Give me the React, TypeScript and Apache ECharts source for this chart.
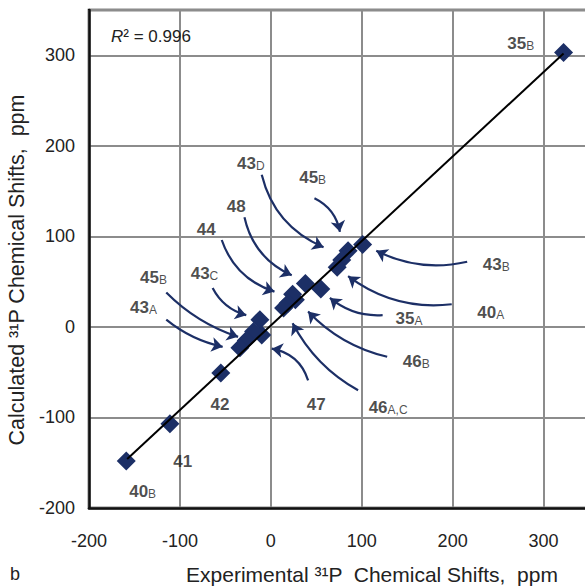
import React, { useEffect, useRef } from "react";
import * as echarts from "echarts";

// Axis ticks
const xTicks = [-200, -100, 0, 100, 200, 300];
const yTicks = [-200, -100, 0, 100, 200, 300];

// Data points: experimental vs calculated 31P shifts (ppm)
const expShift = [322, 101, 85, 78, 73, 55, 38, 27, 24, 19, 14, -12, -10, -19, -27, -34, -55, -111, -159];
const calcShift = [303, 91, 84, 74, 66, 42, 48, 30, 36, 26, 21, 8, -9, -5, -15, -23, -51, -107, -148];

// Linear fit line end points
const fitX = [-158, 322];
const fitY = [-146, 302];

// Compound labels
const labelMain = ["35", "43", "45", "48", "44", "43", "45", "43", "43", "40", "35", "46", "46", "47", "42", "41", "40"];
const labelSub = ["B", "D", "B", "", "", "C", "B", "A", "B", "A", "A", "B", "A,C", "", "", "", "B"];
const labelX = [275, -22, 46, -38, -71, -73, -129, -140, 248, 242, 152, 160, 129, 50, -56, -97, -141];
const labelY = [314, 181, 166, 133, 108, 59, 55, 22, 70, 17, 10, -38, -89, -85, -85, -148, -181];

// Arrows from labels to points
const arrowFromX = [-10, 48, -29, -54, -64, -115, -115, 216, 199, 123, 128, 96, 41];
const arrowFromY = [168, 142, 121, 96, 43, 38, 8, 72, 25, 13, -33, -70, -59];
const arrowToX = [58, 76, 23, 4, -27, -36, -53, 116, 85, 65, 41, 24, 1];
const arrowToY = [88, 105, 57, 39, 13, -11, -22, 84, 56, 32, 17, 4, -24];
const arrowBend = [-0.25, 0.25, -0.25, -0.25, -0.22, -0.12, -0.12, 0.18, 0.2, 0.2, 0.15, 0.15, -0.3];

const FONT = "'Liberation Sans', Arial, sans-serif";
const NAVY = "#1c2f66";
const TEXT = "#222222";

export default function App() {
  const ref = useRef<HTMLDivElement>(null);
  useEffect(() => {
    if (!ref.current) return;
    const chart = echarts.init(ref.current, undefined, { renderer: "svg" });
    const points = expShift.map((x, i) => [x, calcShift[i]]);
    const fit = fitX.map((x, i) => [x, fitY[i]]);
    const labels = labelMain.map((m, i) => ({
      value: [labelX[i], labelY[i]],
      label: { formatter: labelSub[i] ? `{n|${m}}{s|${labelSub[i]}}` : `{n|${m}}` },
    }));
    const arrows = arrowFromX.map((x, i) => ({
      coords: [
        [x, arrowFromY[i]],
        [arrowToX[i], arrowToY[i]],
      ],
      lineStyle: { curveness: arrowBend[i] },
    }));
    chart.setOption({
      animation: false,
      backgroundColor: "#ffffff",
      textStyle: { fontFamily: FONT },
      title: {
        text: "{i|R}{t|² = 0.996}",
        left: 106,
        top: 23,
        textStyle: {
          fontWeight: "normal",
          rich: {
            i: { fontFamily: FONT, fontStyle: "italic", fontWeight: "normal", fontSize: 17, color: TEXT },
            t: { fontFamily: FONT, fontWeight: "normal", fontSize: 17, color: TEXT },
          },
        },
      },
      grid: {
        left: 89,
        right: -4,
        top: 10,
        bottom: 79,
        show: true,
        borderColor: "#111111",
        borderWidth: 2.5,
        containLabel: false,
        outerBoundsMode: "none",
      },
      xAxis: {
        type: "value",
        min: -200,
        max: 350,
        interval: 100,
        name: "Experimental ³¹P  Chemical Shifts,  ppm",
        nameLocation: "middle",
        nameGap: 56,
        nameTextStyle: { fontFamily: FONT, fontSize: 21, color: TEXT, padding: [0, 0, 0, 66] },
        axisLine: { show: true, onZero: false, lineStyle: { color: "#111111", width: 2.5 } },
        axisTick: { show: false },
        axisLabel: {
          color: TEXT,
          fontSize: 18,
          fontFamily: FONT,
          margin: 24,
          showMaxLabel: false,
          formatter: (v: number) => (xTicks.includes(v) ? String(v) : ""),
        },
        splitLine: { show: true, lineStyle: { color: "#8c8c8c", width: 2 } },
      },
      yAxis: {
        type: "value",
        min: -200,
        max: 350,
        interval: 100,
        name: "Calculated ³¹P Chemical Shifts,  ppm",
        nameLocation: "middle",
        nameGap: 59,
        nameTextStyle: { fontFamily: FONT, fontSize: 21.5, color: TEXT, padding: [0, 22, 0, 0] },
        axisLine: { show: true, onZero: false, lineStyle: { color: "#111111", width: 2.5 } },
        axisTick: { show: false },
        axisLabel: {
          color: TEXT,
          fontSize: 18,
          fontFamily: FONT,
          margin: 14,
          showMaxLabel: false,
          formatter: (v: number) => (yTicks.includes(v) ? String(v) : ""),
        },
        splitLine: { show: true, lineStyle: { color: "#8c8c8c", width: 2 } },
      },
      series: [
        {
          type: "lines",
          coordinateSystem: "cartesian2d",
          z: 2,
          symbol: ["none", "arrow"],
          symbolSize: 11,
          lineStyle: { color: NAVY, width: 2.2, opacity: 1 },
          data: arrows,
          silent: true,
        },
        {
          type: "scatter",
          z: 3,
          symbol: "diamond",
          symbolSize: 19,
          itemStyle: { color: NAVY, opacity: 1 },
          data: points,
        },
        {
          type: "line",
          z: 4,
          data: fit,
          symbol: "none",
          lineStyle: { color: "#000000", width: 2 },
        },
        {
          type: "scatter",
          z: 5,
          symbol: "circle",
          symbolSize: 1,
          itemStyle: { color: "rgba(0,0,0,0)" },
          label: {
            show: true,
            position: "inside",
            rich: {
              n: { fontFamily: FONT, fontSize: 17, fontWeight: "bold", color: "#1e1e1e", lineHeight: 18, verticalAlign: "bottom" },
              s: { fontFamily: FONT, fontSize: 12, color: "#1e1e1e", lineHeight: 10, verticalAlign: "bottom" },
            },
          },
          data: labels,
        },
      ],
      graphic: [
        {
          type: "text",
          left: 10,
          top: 565,
          style: { text: "b", font: `18px ${FONT}`, fill: TEXT },
        },
      ],
    });
    return () => chart.dispose();
  }, []);
  return <div ref={ref} style={{ width: 585, height: 587, position: "absolute", left: 0, top: 0 }} />;
}
